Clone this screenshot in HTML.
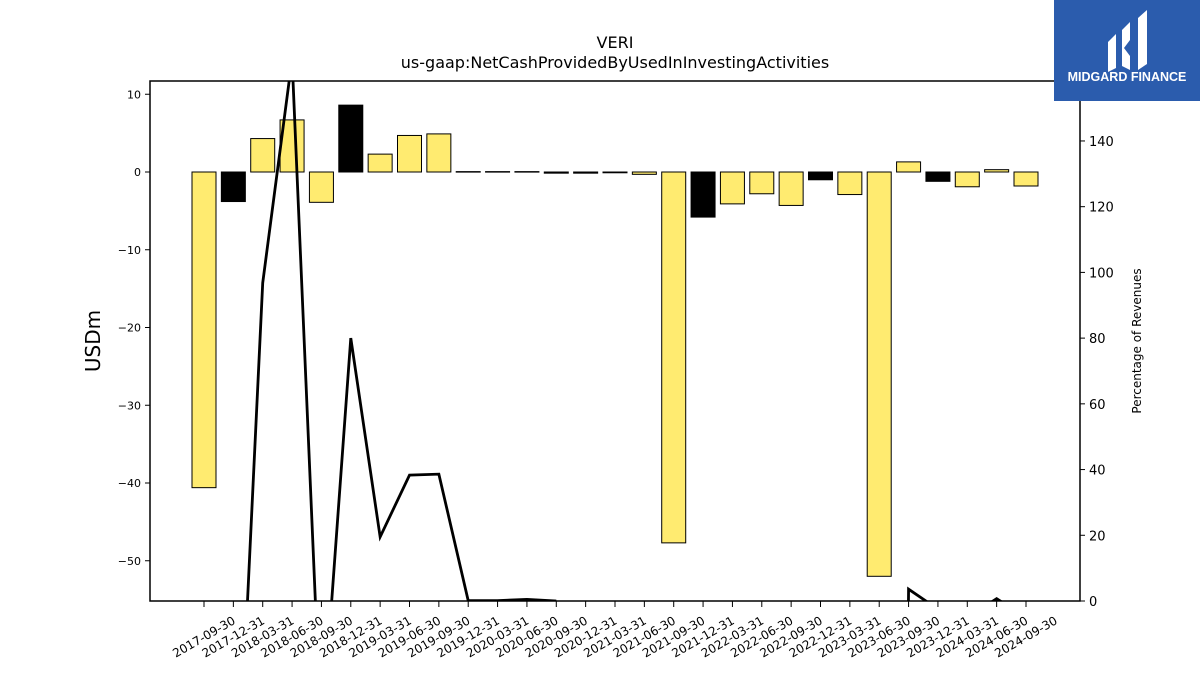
<!DOCTYPE html>
<html><head><meta charset="utf-8"><style>
html,body{margin:0;padding:0;width:1200px;height:675px;overflow:hidden;background:#fff;font-family:"Liberation Sans","DejaVu Sans",sans-serif}
svg{display:block}
</style></head><body>
<svg width="1200" height="675" xmlns="http://www.w3.org/2000/svg" font-family="DejaVu Sans, Liberation Sans, sans-serif">
<rect width="1200" height="675" fill="#fff"/>
<text x="615" y="48" text-anchor="middle" font-size="16">VERI</text>
<text x="615" y="68" text-anchor="middle" font-size="16">us-gaap:NetCashProvidedByUsedInInvestingActivities</text>
<defs><clipPath id="pc"><rect x="150" y="81" width="930" height="520"/></clipPath></defs>
<g id="bars" clip-path="url(#pc)"></g>
<g id="line" clip-path="url(#pc)"></g>
<g id="axes"></g>
<text x="100" y="341" text-anchor="middle" font-size="20" transform="rotate(-90 100 341)">USDm</text>
<text x="1141" y="341" text-anchor="middle" font-size="12" transform="rotate(-90 1141 341)">Percentage of Revenues</text>
<g>
<rect x="1054" y="0" width="146" height="101" fill="#2b5cad"/>
<path d="M1108 42 L1116 34 L1116 68 L1108 72 Z M1122 30 L1130 22 L1130 40 L1124 48 L1130 56 L1130 70 L1122 66 Z M1138 18 L1147 10 L1147 64 L1138 70 Z" fill="#fff"/>
<text x="1127" y="81" text-anchor="middle" font-size="12.5" font-weight="bold" fill="#fff" font-family="Liberation Sans, sans-serif">MIDGARD FINANCE</text>
</g>
</svg>
<script>
const categories=["2017-09-30","2017-12-31","2018-03-31","2018-06-30","2018-09-30","2018-12-31","2019-03-31","2019-06-30","2019-09-30","2019-12-31","2020-03-31","2020-06-30","2020-09-30","2020-12-31","2021-03-31","2021-06-30","2021-09-30","2021-12-31","2022-03-31","2022-06-30","2022-09-30","2022-12-31","2023-03-31","2023-06-30","2023-09-30","2023-12-31","2024-03-31","2024-06-30","2024-09-30"];
const values=[-40.6,-3.8,4.3,6.7,-3.9,8.6,2.3,4.7,4.9,0.05,0.05,0.05,-0.15,-0.15,-0.1,-0.3,-47.7,-5.8,-4.1,-2.8,-4.3,-1.0,-2.9,-52.0,1.3,-1.2,-1.9,0.3,-1.8];
const barColors=["y","k","y","y","y","k","y","y","y","y","y","y","k","k","k","y","y","k","y","y","y","k","y","y","y","k","y","y","y"];
const pct=[-200,-90,96.8,165,-43,80,19.5,38.3,38.6,0.1,0.1,0.5,0,null,null,null,null,null,null,null,null,null,null,-1000,3.6,-2.5,-5,0.7,-5];
const leftTicks=[10,0,-10,-20,-30,-40,-50];
const rightTicks=[0,20,40,60,80,100,120,140];
const NS="http://www.w3.org/2000/svg";
const L=150,R=1080,T=81,B=601;
const x0=204,step=(1026-204)/28;
const xs=i=>x0+i*step;
const yL=v=>172-v*7.775;
const yR=v=>601-v*3.286;
function mk(t,a,p){const e=document.createElementNS(NS,t);for(const k in a)e.setAttribute(k,a[k]);p.appendChild(e);return e;}
const gb=document.getElementById('bars'),gl=document.getElementById('line'),ga=document.getElementById('axes');
values.forEach((v,i)=>{const y1=yL(Math.max(v,0)),y2=yL(Math.min(v,0));
const r=mk('rect',{x:xs(i)-12,y:y1,width:24,height:Math.max(y2-y1,0.5),fill:barColors[i]=="k"?"#000":"#ffeb70",stroke:"#000","stroke-width":1},gb);

});
let d="",pen=false;
pct.forEach((v,i)=>{if(v===null){pen=false;return;}d+=(pen?"L":"M")+xs(i)+" "+yR(v)+" ";pen=true;});
const ln=mk('path',{d:d,fill:"none",stroke:"#000","stroke-width":2.8,"stroke-linejoin":"miter"},gl);


const fr=mk('rect',{x:L,y:T,width:R-L,height:B-T,fill:"none",stroke:"#000","stroke-width":1.5},ga);


leftTicks.forEach(v=>{const y=yL(v);mk('line',{x1:L-5,x2:L,y1:y,y2:y,stroke:"#000"},ga);
const t=mk('text',{x:L-9,y:y+4,"text-anchor":"end","font-size":11},ga);t.textContent=v<0?"\u2212"+(-v):v;

});
rightTicks.forEach(v=>{const y=yR(v);mk('line',{x1:R,x2:R+5,y1:y,y2:y,stroke:"#000"},ga);
const t=mk('text',{x:R+9,y:y+5,"font-size":13},ga);t.textContent=v;

});
categories.forEach((c,i)=>{const x=xs(i);mk('line',{x1:x,x2:x,y1:B,y2:B+6,stroke:"#000"},ga);
const t=mk('text',{x:x,y:641,"text-anchor":"middle","font-size":12,transform:`rotate(-30 ${x} 637)`},ga);t.textContent=c;

});
</script>
</body></html>
